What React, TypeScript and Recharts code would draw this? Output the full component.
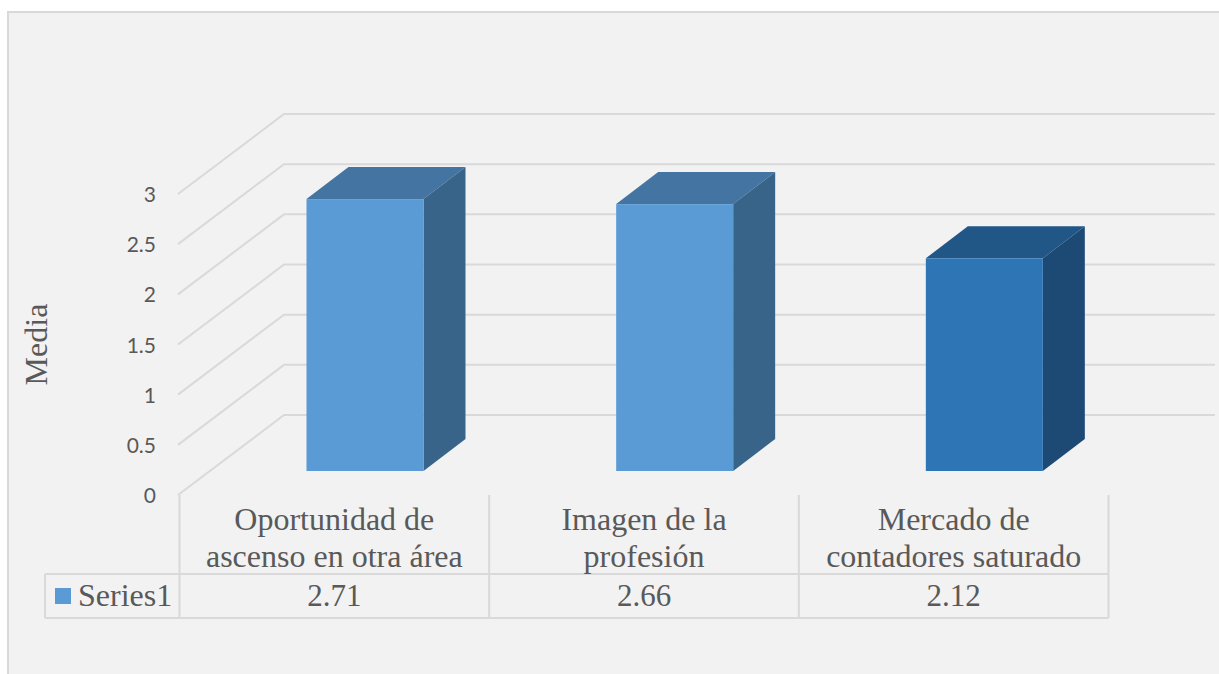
import { BarChart, Bar, XAxis, YAxis } from 'recharts';

const categories = ['Oportunidad de\nascenso en otra área', 'Imagen de la\nprofesión', 'Mercado de\ncontadores saturado'];
const values = [2.71, 2.66, 2.12];
const yTicks = [0, 0.5, 1, 1.5, 2, 2.5, 3];
const seriesName = 'Series1';
const frontColors = ['#5b9bd5', '#5b9bd5', '#2e75b6'];
const topColors = ['#4474a1', '#4474a1', '#215787'];
const sideColors = ['#38648a', '#38648a', '#1d4a75'];

const chartData = categories.map((name, i) => ({ name, value: values[i] }));

const GRID = '#d9d9d9';
const TEXT = '#595959';
const SERIF = '"Liberation Serif", "Times New Roman", serif';
const PLOT_LEFT = 179.5;
const PLOT_RIGHT = 110.5;
const PLOT_TOP = 194;
const PLOT_BOTTOM = 179;
const TABLE_TOP = 574;
const TABLE_BOTTOM = 618;

function WallTick({ y, payload }: any) {
  const backY = y - 80;
  return (
    <g>
      <polyline
        points={`178,${y} 284,${backY} 1215,${backY}`}
        fill="none"
        stroke={GRID}
        strokeWidth={2}
      />
      <text x={156} y={y + 8} textAnchor="end" fontFamily="Lato" fontSize={21} fill={TEXT}>
        {payload.value}
      </text>
    </g>
  );
}

function TableTick({ x, payload, index, width }: any) {
  const band = width / categories.length;
  const left = x - band / 2;
  const right = x + band / 2;
  const lines = String(payload.value).split('\n');
  return (
    <g fontFamily={SERIF} fontSize={32} fill={TEXT} textAnchor="middle">
      <line x1={right} x2={right} y1={495} y2={TABLE_BOTTOM} stroke={GRID} strokeWidth={2} />
      <line x1={left} x2={right} y1={TABLE_TOP} y2={TABLE_TOP} stroke={GRID} strokeWidth={2} />
      <line x1={left} x2={right} y1={TABLE_BOTTOM} y2={TABLE_BOTTOM} stroke={GRID} strokeWidth={2} />
      <text x={x} y={530} stroke="none">{lines[0]}</text>
      <text x={x} y={567} stroke="none">{lines[1]}</text>
      <text x={x} y={606} fontSize={31} stroke="none">{values[index].toFixed(2)}</text>
      {index === 0 && (
        <g>
          <line x1={left} x2={left} y1={495} y2={TABLE_BOTTOM} stroke={GRID} strokeWidth={2} />
          <line x1={45} x2={left} y1={TABLE_TOP} y2={TABLE_TOP} stroke={GRID} strokeWidth={2} />
          <line x1={45} x2={left} y1={TABLE_BOTTOM} y2={TABLE_BOTTOM} stroke={GRID} strokeWidth={2} />
          <line x1={45} x2={45} y1={TABLE_TOP} y2={TABLE_BOTTOM} stroke={GRID} strokeWidth={2} />
          <rect x={55} y={588} width={16} height={16} fill={frontColors[0]} />
          <text x={78} y={606} textAnchor="start" stroke="none">{seriesName}</text>
        </g>
      )}
    </g>
  );
}

function Box3D({ x, y, width, height, index }: any) {
  // bars stand a little behind the front plane of the floor
  const fx = x + 31;
  const fy = y - 24;
  const dx = 42;
  const dy = 32;
  return (
    <g>
      <polygon
        points={`${fx},${fy} ${fx + dx},${fy - dy} ${fx + width + dx},${fy - dy} ${fx + width},${fy}`}
        fill={topColors[index]}
      />
      <polygon
        points={`${fx + width},${fy} ${fx + width + dx},${fy - dy} ${fx + width + dx},${fy + height - dy} ${fx + width},${fy + height}`}
        fill={sideColors[index]}
      />
      <rect x={fx} y={fy} width={width} height={height} fill={frontColors[index]} />
    </g>
  );
}

export default function App() {
  return (
    <div style={{ position: 'absolute', left: 0, top: 0, width: 1219, height: 674, overflow: 'hidden', background: '#fff' }}>
      <div
        style={{
          position: 'absolute',
          left: 7,
          top: 11,
          width: 1212,
          height: 663,
          boxSizing: 'border-box',
          background: '#f2f2f2',
          borderLeft: `2px solid ${GRID}`,
          borderTop: `2px solid ${GRID}`,
        }}
      />
      {/* axes go in their own chart underneath, the ticks would paint over the bars otherwise */}
      <div style={{ position: 'absolute', left: 0, top: 0 }}>
        <BarChart
          width={1219}
          height={674}
          data={chartData}
          margin={{ top: PLOT_TOP, right: PLOT_RIGHT, bottom: 0, left: 0 }}
        >
          <XAxis
            dataKey="name"
            height={PLOT_BOTTOM}
            axisLine={false}
            tickLine={false}
            interval={0}
            tick={<TableTick />}
          />
          <YAxis
            width={PLOT_LEFT}
            domain={[0, 3]}
            ticks={yTicks}
            axisLine={false}
            tickLine={false}
            interval={0}
            tick={<WallTick />}
            label={{
              value: 'Media',
              angle: -90,
              position: 'center',
              dx: -54,
              fontFamily: SERIF,
              fontSize: 32,
              fill: TEXT,
            }}
          />
          {/* invisible, only keeps the y axis alive */}
          <Bar dataKey="value" fill="none" isAnimationActive={false} />
        </BarChart>
      </div>
      <div style={{ position: 'absolute', left: 0, top: 0 }}>
        <BarChart
          width={1219}
          height={674}
          data={chartData}
          margin={{ top: PLOT_TOP, right: PLOT_RIGHT, bottom: PLOT_BOTTOM, left: PLOT_LEFT }}
          barSize={117}
        >
          <XAxis dataKey="name" hide />
          <YAxis domain={[0, 3]} hide />
          <Bar dataKey="value" isAnimationActive={false} shape={<Box3D />} />
        </BarChart>
      </div>
    </div>
  );
}
